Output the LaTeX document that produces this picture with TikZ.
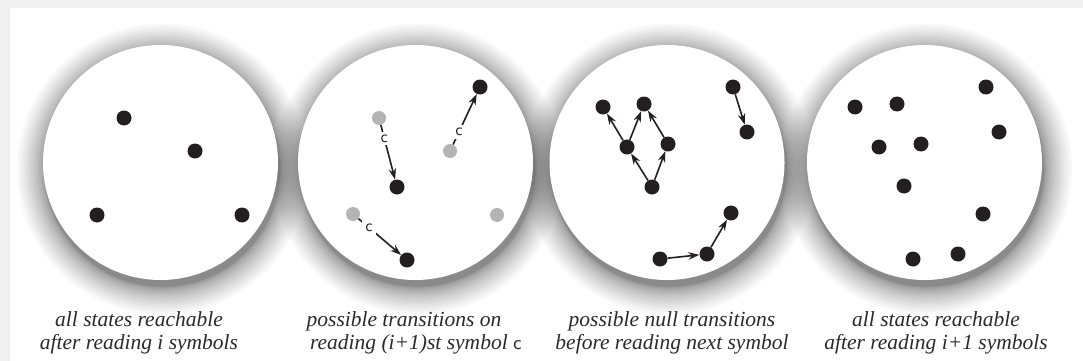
\documentclass[tikz,border=0pt]{standalone}
\usepackage{fontspec}
\setmainfont{Liberation Serif}
\newfontfamily\lblfont{DejaVu Sans}
\usetikzlibrary{arrows.meta}
\definecolor{dotblack}{HTML}{231F20}
\definecolor{dotgray}{HTML}{B4B4B4}
\definecolor{bggray}{HTML}{F0F0F0}
\definecolor{captext}{HTML}{2B2B2B}
\begin{document}
\begin{tikzpicture}[x=1pt,y=-1pt,
  disk/.style={circle, fill=white, inner sep=0pt, minimum size=235pt},
  state/.style={circle, fill=dotblack, inner sep=0pt, minimum size=15pt},
  ghost/.style={circle, fill=dotgray, inner sep=0pt, minimum size=14pt},
  trans/.style={draw=dotblack, line width=1.6pt, -{Stealth[length=11pt,width=7.5pt]}},
  clab/.style={fill=white, inner sep=3pt, font=\fontsize{13.5}{13.5}\lblfont, text=dotblack},
  captxt/.style={anchor=base, font=\fontsize{21.5}{23}\selectfont\itshape, text=captext, inner sep=0pt},
]
\useasboundingbox (0,0) rectangle (1083,361);
\fill[bggray] (0,0) rectangle (1083,361);
\fill[white] (10,8) rectangle (1083,361);

% soft shadows
\foreach \cx in {160.5,415.5,667,924.5} {
  \foreach \k in {1,...,20} {
    \fill[black,opacity=0.028] (\cx+2,169) circle[radius=117.5pt+28pt*(\k/20)^2];
  }
}

% disks
\node[disk] (d1) at (160.5,162.5) {};
\node[disk] (d2) at (415.5,162.5) {};
\node[disk] (d3) at (667,162.5) {};
\node[disk] (d4) at (924.5,162.5) {};

% panel 1
\node[state] (s11) at (124,118) {};
\node[state] (s12) at (195,151) {};
\node[state] (s13) at (97,215) {};
\node[state] (s14) at (242,215) {};

% panel 2
\node[ghost] (g21) at (379,118) {};
\node[ghost] (g22) at (450,151) {};
\node[ghost] (g23) at (353,214) {};
\node[ghost] (g24) at (497,215) {};
\node[state] (b21) at (480,87) {};
\node[state] (b22) at (397,187) {};
\node[state] (b23) at (407,260) {};
\draw[trans] (g21) -- node[clab, pos=0.25] {c} (b22);
\draw[trans] (g22) -- node[clab, pos=0.25] {c} (b21);
\draw[trans] (g23) -- node[clab, pos=0.25] {c} (b23);

% panel 3
\node[state] (a3) at (603,107) {};
\node[state] (b3) at (644,104) {};
\node[state] (c3) at (627,147) {};
\node[state] (e3) at (668,144) {};
\node[state] (f3) at (652,187) {};
\node[state] (h3) at (733,87) {};
\node[state] (i3) at (747,132) {};
\node[state] (j3) at (660,259) {};
\node[state] (k3) at (707,254) {};
\node[state] (l3) at (731,213) {};
\draw[trans] (c3) -- (a3);
\draw[trans] (c3) -- (b3);
\draw[trans] (e3) -- (b3);
\draw[trans] (f3) -- (c3);
\draw[trans] (f3) -- (e3);
\draw[trans] (h3) -- (i3);
\draw[trans] (j3) -- (k3);
\draw[trans] (k3) -- (l3);

% panel 4
\node[state] (s41) at (855,107) {};
\node[state] (s42) at (897,104) {};
\node[state] (s43) at (986,87) {};
\node[state] (s44) at (999,132) {};
\node[state] (s45) at (879,147) {};
\node[state] (s46) at (921,144) {};
\node[state] (s47) at (904,186) {};
\node[state] (s48) at (983,214) {};
\node[state] (s49) at (958,254) {};
\node[state] (s410) at (913,259) {};

% captions
\node[captxt] (c1a) at (139,326) {all states reachable};
\node[captxt] (c1b) at (139,349) {after reading i symbols};
\node[captxt] (c2a) at (404,326) {possible transitions on};
\node[captxt] (c2b) at (416,349) {reading (i+1)st symbol {\upshape\fontsize{16}{16}\lblfont c}};
\node[captxt] (c3a) at (672,326) {possible null transitions};
\node[captxt] (c3b) at (672,349) {before reading next symbol};
\node[captxt] (c4a) at (936,326) {all states reachable};
\node[captxt] (c4b) at (936,349) {after reading i+1 symbols};
\end{tikzpicture}
\end{document}
